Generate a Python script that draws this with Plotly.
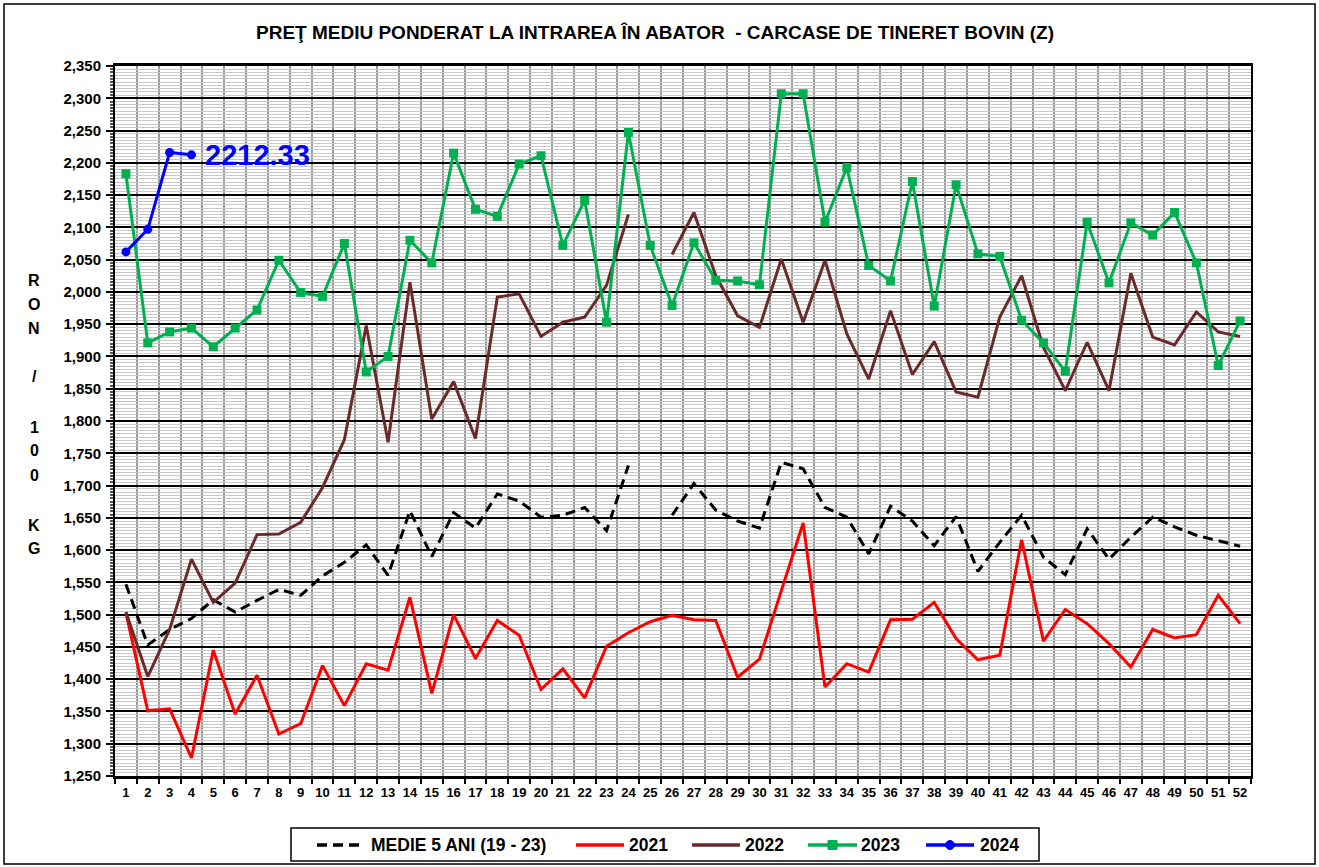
import plotly.graph_objects as go

# ---------------- data ----------------
weeks = list(range(1, 53))
week_labels = [str(w) for w in weeks]

medie_5_ani = [1547, 1453, 1477, 1494, 1523, 1504, 1522, 1539, 1530, 1560,
               1581, 1608, 1561, 1661, 1590, 1658, 1634, 1687, 1676, 1651,
               1654, 1666, 1630, 1731, None, 1654, 1703, 1662, 1645, 1634,
               1736, 1726, 1666, 1651, 1594, 1668, 1645, 1607, 1652, 1567,
               1612, 1654, 1589, 1562, 1633, 1586, 1620, 1651, 1636, 1623,
               1614, 1606]

y2021 = [1503, 1351, 1354, 1278, 1445, 1346, 1406, 1315, 1331, 1421,
         1359, 1424, 1414, 1527, 1378, 1500, 1432, 1491, 1468, 1384,
         1416, 1371, 1451, 1472, 1489, 1499, 1492, 1491, 1403, 1431,
         1537, 1642, 1388, 1424, 1411, 1492, 1493, 1519, 1463, 1430,
         1437, 1616, 1459, 1508, 1486, 1455, 1419, 1477, 1464, 1469,
         1530, 1486]

y2022 = [1504, 1404, 1477, 1586, 1519, 1549, 1624, 1625, 1643, 1697,
         1771, 1948, 1767, 2015, 1803, 1861, 1773, 1992, 1997, 1931,
         1953, 1961, 2010, 2120, None, 2058, 2123, 2025, 1963, 1945,
         2051, 1953, 2049, 1935, 1865, 1971, 1872, 1923, 1845, 1837,
         1961, 2025, 1914, 1847, 1922, 1847, 2029, 1930, 1918, 1969,
         1938, 1931]

y2023 = [2183, 1921, 1938, 1944, 1915, 1944, 1972, 2049, 1999, 1993,
         2075, 1876, 1900, 2080, 2045, 2215, 2128, 2117, 2198, 2211,
         2072, 2142, 1953, 2247, 2072, 1979, 2076, 2018, 2017, 2011,
         2307, 2307, 2108, 2193, 2041, 2017, 2171, 1978, 2166, 2059,
         2055, 1956, 1921, 1877, 2108, 2014, 2107, 2088, 2123, 2045,
         1886, 1955]

y2024 = [2062, 2097, 2216, 2212.33]

series_names = ["MEDIE 5 ANI (19 - 23)", "2021", "2022", "2023", "2024"]
title_text = "PREŢ MEDIU PONDERAT LA INTRAREA ÎN ABATOR  - CARCASE DE TINERET BOVIN (Z)"
yaxis_title_letters = ["R", "O", "N", "/", "1", "0", "0", "K", "G"]

# ---------------- styles ----------------
colors = ["black", "#ff0000", "#6b2a2a", "#00b050", "#0000ff"]
dashes = ["10px,6px", "solid", "solid", "solid", "solid"]
markers = [None, None, None, "square", "circle"]

# ---------------- layout geometry ----------------
W, H = 1319, 867
L, R, T, B = 115, 1251, 66, 776
FONT = "Arial, 'Liberation Sans', sans-serif"


def px2x(px):
    return (px - L) / (R - L)


def py2y(py):
    return (B - py) / (B - T)


fig = go.Figure()

all_series = [medie_5_ani, y2021, y2022, y2023, y2024]
for name, ys, col, dsh, mk in zip(series_names, all_series, colors, dashes, markers):
    kw = dict(x=weeks[:len(ys)], y=ys, name=name, connectgaps=False,
              line=dict(color=col, width=3, dash=dsh), showlegend=False)
    if mk:
        kw["mode"] = "lines+markers"
        kw["marker"] = dict(symbol=mk, size=9, color=col)
    else:
        kw["mode"] = "lines"
    fig.add_trace(go.Scatter(**kw))

# value label for last 2024 point
fig.add_annotation(
    x=len(y2024), y=y2024[-1], xref="x", yref="y",
    text=f"<b>{y2024[-1]:.2f}</b>", showarrow=False,
    xanchor="left", yanchor="middle", xshift=12,
    font=dict(family=FONT, size=29, color="#0000ff"))

# vertical y-axis title (stacked letters)
letter_py = [280, 304, 329, 376, 427, 451, 475, 525, 548]
for ch, py in zip(yaxis_title_letters, letter_py):
    fig.add_annotation(
        x=px2x(34), y=py2y(py), xref="paper", yref="paper",
        text=f"<b>{ch}</b>", showarrow=False, xanchor="center", yanchor="middle",
        font=dict(family=FONT, size=16, color="black"))

# ---------------- manual legend ----------------
leg_box = (291, 828, 1039, 861)       # px: x0, y0, x1, y1
leg_cy = 845
leg_sym = [(317, 361), (576, 624), (692, 740), (808, 857), (926, 974)]
leg_text_x = [369, 627, 743, 859, 978]

fig.add_shape(type="rect", xref="paper", yref="paper",
              x0=px2x(leg_box[0]), x1=px2x(leg_box[2]),
              y0=py2y(leg_box[3]), y1=py2y(leg_box[1]),
              line=dict(color="black", width=1.5), fillcolor="white", layer="above")
for name, col, dsh, mk, (sx0, sx1), tx in zip(series_names, colors, dashes, markers,
                                              leg_sym, leg_text_x):
    fig.add_shape(type="line", xref="paper", yref="paper",
                  x0=px2x(sx0), x1=px2x(sx1), y0=py2y(leg_cy), y1=py2y(leg_cy),
                  line=dict(color=col, width=3.5, dash=dsh), layer="above")
    if mk:
        cx = (sx0 + sx1) / 2
        s = 4.5
        fig.add_shape(type="rect" if mk == "square" else "circle",
                      xref="paper", yref="paper",
                      x0=px2x(cx - s), x1=px2x(cx + s),
                      y0=py2y(leg_cy + s), y1=py2y(leg_cy - s),
                      line=dict(color=col, width=1), fillcolor=col, layer="above")
    fig.add_annotation(x=px2x(tx), y=py2y(leg_cy), xref="paper", yref="paper",
                       text=f"<b>{name}</b>", showarrow=False,
                       xanchor="left", yanchor="middle",
                       font=dict(family=FONT, size=17.5, color="black"))

# outer frame
fig.add_shape(type="rect", xref="paper", yref="paper",
              x0=px2x(4), x1=px2x(1315), y0=py2y(864), y1=py2y(4),
              line=dict(color="black", width=1.5), fillcolor="rgba(0,0,0,0)")

fig.update_layout(
    width=W, height=H,
    margin=dict(l=L, r=W - R, t=T, b=H - B),
    paper_bgcolor="white", plot_bgcolor="white",
    font=dict(family=FONT, color="black"),
    hovermode=False,
    title=dict(text=f"<b>{title_text}</b>", x=655 / W, xref="container",
               xanchor="center", y=1 - 32 / H, yref="container", yanchor="middle",
               font=dict(family=FONT, size=19, color="black")),
    showlegend=False,
)

fig.update_xaxes(
    range=[0.5, 52.5], tickmode="array", tickvals=weeks, ticktext=week_labels,
    showgrid=False, ticks="", zeroline=False, ticklabelstandoff=2,
    tickfont=dict(family=FONT, size=13, color="black", weight="bold"),
    showline=True, linecolor="black", linewidth=3, mirror=True,
    minor=dict(tickmode="linear", tick0=0.5, dtick=1, showgrid=True,
               gridcolor="#9a9a9a", gridwidth=1.5, ticks="outside",
               ticklen=5, tickcolor="black", tickwidth=2),
)

fig.update_yaxes(
    range=[1250, 2350], tickmode="linear", tick0=1250, dtick=50,
    tickformat=",d", showgrid=True, gridcolor="black", gridwidth=2,
    ticks="outside", ticklen=7, tickcolor="black", tickwidth=1.5,
    zeroline=False, ticklabelstandoff=2,
    tickfont=dict(family=FONT, size=15, color="black", weight="bold"),
    showline=True, linecolor="black", linewidth=2, mirror=True,
    minor=dict(tickmode="linear", dtick=5, showgrid=True,
               gridcolor="#c8c8c8", gridwidth=1, ticks="outside",
               ticklen=3, tickcolor="#555555"),
)

fig.write_html("out.html", config={"displayModeBar": False},
               post_script="document.body.style.margin='0px';")
